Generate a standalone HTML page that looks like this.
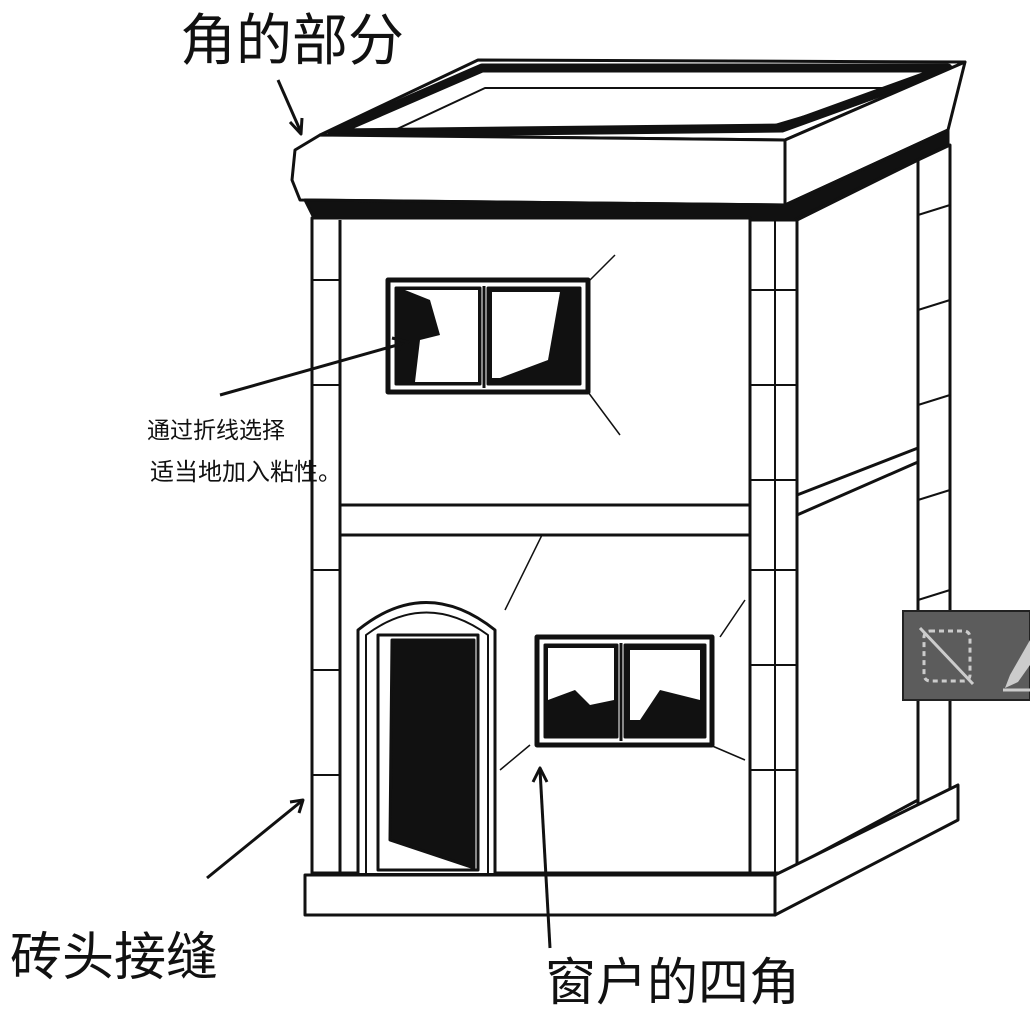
<!DOCTYPE html>
<html><head><meta charset="utf-8"><style>
html,body{margin:0;padding:0;background:#fff;}
svg{display:block;}
text{font-family:"Liberation Sans","Noto Sans CJK SC",sans-serif;fill:#111;}
</style></head><body>
<svg width="1030" height="1022" viewBox="0 0 1030 1022" xmlns="http://www.w3.org/2000/svg">
<g stroke="#111" stroke-width="3" fill="none" stroke-linejoin="round">
<polygon points="320,135 478,60 965,62 785,140" fill="#fff"/>
<polygon points="332,133 482,68 948,68 782,128" stroke-width="9"/>
<polygon points="395,130 485,88 900,88 775,125" stroke-width="2"/>
<polygon points="295,150 320,135 785,140 785,205 300,200 292,180" fill="#fff"/>
<polygon points="785,140 965,62 948,130 785,205" fill="#fff"/>
<polygon points="305,200 785,205 948,130 948,145 790,222 315,220" fill="#111"/>
<rect x="312" y="218" width="438" height="655" fill="#fff"/>
<line x1="340" y1="220" x2="340" y2="873"/>
<line x1="312" y1="280" x2="340" y2="280" stroke-width="2"/>
<line x1="312" y1="385" x2="340" y2="385" stroke-width="2"/>
<line x1="312" y1="570" x2="340" y2="570" stroke-width="2"/>
<line x1="312" y1="670" x2="340" y2="670" stroke-width="2"/>
<line x1="312" y1="775" x2="340" y2="775" stroke-width="2"/>
<rect x="340" y="505" width="410" height="30" fill="#fff"/>
<rect x="750" y="220" width="47" height="653" fill="#fff"/>
<line x1="775" y1="220" x2="775" y2="873" stroke-width="2"/>
<line x1="750" y1="290" x2="797" y2="290" stroke-width="2"/>
<line x1="750" y1="385" x2="797" y2="385" stroke-width="2"/>
<line x1="750" y1="480" x2="797" y2="480" stroke-width="2"/>
<line x1="750" y1="570" x2="797" y2="570" stroke-width="2"/>
<line x1="750" y1="665" x2="797" y2="665" stroke-width="2"/>
<line x1="750" y1="770" x2="797" y2="770" stroke-width="2"/>
<polygon points="797,220 918,160 918,800 797,865" fill="#fff"/>
<polygon points="918,160 950,145 950,790 918,805" fill="#fff"/>
<line x1="918" y1="215" x2="950" y2="205" stroke-width="2"/>
<line x1="918" y1="310" x2="950" y2="300" stroke-width="2"/>
<line x1="918" y1="405" x2="950" y2="395" stroke-width="2"/>
<line x1="918" y1="500" x2="950" y2="490" stroke-width="2"/>
<line x1="918" y1="600" x2="950" y2="590" stroke-width="2"/>
<line x1="918" y1="700" x2="950" y2="690" stroke-width="2"/>
<polygon points="797,495 918,448 918,462 797,515" fill="#fff"/>
<polygon points="305,875 775,875 775,915 305,915" fill="#fff"/>
<polygon points="775,875 958,785 958,820 775,915" fill="#fff"/>
<rect x="388" y="280" width="200" height="112" fill="#fff" stroke-width="5"/>
<rect x="396" y="288" width="84" height="96" fill="#111"/>
<rect x="488" y="288" width="92" height="96" fill="#111"/>
<polygon points="405,290 478,290 478,382 415,382 420,340 440,335 430,300" fill="#fff" stroke="none"/>
<polygon points="492,292 560,292 548,360 500,378 492,378" fill="#fff" stroke="none"/>
<line x1="484" y1="286" x2="484" y2="388" stroke-width="3"/>
<path d="M358,873 V630 Q426,575 495,630 V873" fill="#fff"/>
<path d="M366,873 V635 Q426,590 488,635 V873" stroke-width="2"/>
<rect x="378" y="635" width="100" height="235" fill="#fff"/>
<polygon points="392,640 474,640 474,868 390,840" fill="#111"/>
<rect x="537" y="637" width="175" height="108" fill="#fff" stroke-width="5"/>
<rect x="545" y="645" width="72" height="92" fill="#111"/>
<rect x="625" y="645" width="80" height="92" fill="#111"/>
<polygon points="548,648 614,648 614,700 590,705 575,690 548,700" fill="#fff" stroke="none"/>
<polygon points="630,650 700,650 700,700 660,690 640,720 630,720" fill="#fff" stroke="none"/>
<line x1="621" y1="643" x2="621" y2="741"/>
<path d="M590,280 L615,255 M588,392 L620,435 M542,535 L505,610 M720,637 L745,600 M530,745 L500,770 M710,745 L745,760" stroke-width="1.5"/>
<line x1="278" y1="80" x2="300" y2="130"/><polyline points="290,122 301,134 302,118"/>
<line x1="220" y1="395" x2="408" y2="342"/><polyline points="392,338 408,342 397,352"/>
<line x1="207" y1="878" x2="303" y2="800"/><polyline points="290,802 303,800 299,813"/>
<line x1="550" y1="948" x2="540" y2="770"/><polyline points="533,782 540,768 547,782"/>
</g>
<text x="180" y="60" font-size="56">角的部分</text>
<text x="147" y="438" font-size="23">通过折线选择</text>
<text x="150" y="480" font-size="24">适当地加入粘性。</text>
<text x="10" y="975" font-size="52">砖头接缝</text>
<text x="545" y="1000" font-size="51">窗户的四角</text>
<rect x="903" y="611" width="127" height="89" fill="#5c5c5c" stroke="#222" stroke-width="2"/>
<rect x="924" y="631" width="46" height="50" rx="6" fill="none" stroke="#ccc" stroke-width="3" stroke-dasharray="5,4"/>
<line x1="920" y1="628" x2="973" y2="684" stroke="#ccc" stroke-width="3"/>
<polygon points="1030,640 1010,675 1005,688 1018,682 1030,665" fill="#ccc"/>
<line x1="1003" y1="690" x2="1030" y2="690" stroke="#ccc" stroke-width="3"/>
</svg>
</body></html>
